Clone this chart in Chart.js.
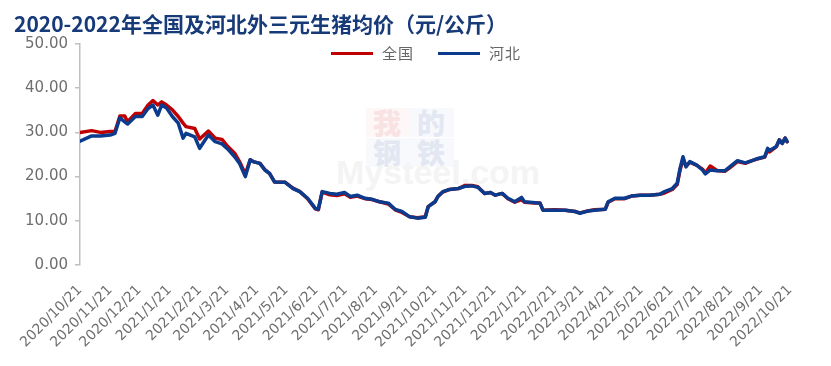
<!DOCTYPE html>
<html lang="zh-CN">
<head>
    <meta charset="UTF-8">
    <title>2020-2022年全国及河北外三元生猪均价</title>
    <script src="https://cdn.jsdelivr.net/npm/chart.js"></script>
    <style>
        html, body { margin: 0; padding: 0; background: #fff; }
        .wrap {
            position: relative;
            width: 831px;
            height: 366px;
            font-family: "Noto Sans CJK SC", "Noto Sans", sans-serif;
        }
        .title {
            position: absolute;
            left: 14px;
            top: 12px;
            font-size: 21px;
            line-height: 23px;
            font-weight: bold;
            color: #173a78;
            white-space: nowrap;
        }
        .legend {
            position: absolute;
            left: 331px;
            top: 44px;
            display: flex;
            align-items: center;
            font-size: 15px;
            line-height: 18px;
            color: #666;
        }
        .legend i {
            display: inline-block;
            width: 42px;
            height: 3px;
            margin-right: 9px;
        }
        .legend span { margin-right: 24px; letter-spacing: 1px; }
        /* faint watermark */
        .wm { position: absolute; font-weight: bold; white-space: nowrap; }
        .wm.cn { left: 366px; font-size: 28px; line-height: 29px; letter-spacing: 2px; }
        .wm.cn b { display: inline-block; width: 44px; text-align: center; }
        .wm.en { left: 336px; top: 154px; font-size: 34px; line-height: 36px; color: #f4f4f4; font-family: "Liberation Sans", sans-serif; }
        canvas { position: absolute; left: 0; top: 0; }
    </style>
</head>
<body>
<div class="wrap">
    <div class="wm cn" style="top:108px"><b style="color:#f8e2e2;background:#fdf7f7">我</b><b style="color:#e2e7f2;background:#f8f9fc">的</b></div>
    <div class="wm cn" style="top:138px"><b style="color:#e2e7f2;background:#f8f9fc">钢</b><b style="color:#e2e7f2;background:#f8f9fc">铁</b></div>
    <div class="wm en">Mysteel.com</div>
    <canvas id="chart" width="831" height="366"></canvas>
    <div class="title">2020-2022年全国及河北外三元生猪均价（元/公斤）</div>
    <div class="legend">
        <i style="background:#c00000"></i><span>全国</span>
        <i style="background:#0b3b8c"></i><span>河北</span>
    </div>
</div>

<script>
    // data
    const dates = [
        '2020-10-21','2020-11-02','2020-11-11','2020-11-21','2020-11-26','2020-12-01','2020-12-06','2020-12-09',
        '2020-12-17','2020-12-24','2020-12-30','2021-01-04','2021-01-09','2021-01-13','2021-01-18','2021-01-24',
        '2021-01-30','2021-02-04','2021-02-07','2021-02-16','2021-02-21','2021-03-02','2021-03-09','2021-03-16',
        '2021-03-22','2021-03-29','2021-04-03','2021-04-09','2021-04-14','2021-04-17','2021-04-24','2021-04-29',
        '2021-05-04','2021-05-09','2021-05-20','2021-05-28','2021-06-04','2021-06-12','2021-06-20','2021-06-23',
        '2021-06-27','2021-07-05','2021-07-12','2021-07-20','2021-07-26','2021-08-02','2021-08-10','2021-08-17',
        '2021-08-25','2021-09-03','2021-09-10','2021-09-17','2021-09-25','2021-10-03','2021-10-11','2021-10-14',
        '2021-10-21','2021-10-24','2021-10-29','2021-11-05','2021-11-14','2021-11-21','2021-11-28','2021-12-04',
        '2021-12-11','2021-12-17','2021-12-22','2021-12-29','2022-01-04','2022-01-11','2022-01-18','2022-01-21',
        '2022-02-01','2022-02-06','2022-02-09','2022-02-21','2022-03-04','2022-03-14','2022-03-19','2022-03-27',
        '2022-04-03','2022-04-14','2022-04-17','2022-04-24','2022-05-04','2022-05-11','2022-05-20','2022-05-30',
        '2022-06-09','2022-06-14','2022-06-22','2022-06-27','2022-06-30','2022-07-03','2022-07-06','2022-07-10',
        '2022-07-17','2022-07-23','2022-07-26','2022-07-31','2022-08-07','2022-08-15','2022-08-20','2022-08-28',
        '2022-09-05','2022-09-12','2022-09-18','2022-09-25','2022-09-28','2022-09-30','2022-10-07','2022-10-10',
        '2022-10-13','2022-10-16','2022-10-18'
    ];
    const quanguo = [
        30.0, 30.4, 30.0, 30.2, 30.2, 33.7, 33.7, 32.4,
        34.3, 34.3, 36.2, 37.2, 36.2, 36.9, 36.2, 35.1,
        33.6, 32.1, 31.3, 30.9, 28.5, 30.3, 28.7, 28.4,
        26.8, 25.3, 23.4, 20.6, 23.8, 23.4, 23.0, 21.6,
        20.7, 18.8, 18.7, 17.4, 16.6, 15.0, 12.7, 12.5,
        16.5, 15.9, 15.7, 16.1, 15.3, 15.6, 15.0, 14.8,
        14.3, 13.8, 12.5, 11.9, 10.9, 10.7, 10.9, 13.2,
        14.3, 15.5, 16.5, 17.1, 17.3, 18.0, 18.0, 17.7,
        16.2, 16.4, 15.8, 16.2, 15.0, 14.2, 14.8, 14.2,
        14.0, 14.0, 12.4, 12.5, 12.4, 12.1, 11.8, 12.2,
        12.5, 12.6, 14.2, 15.0, 15.0, 15.6, 15.8, 15.8,
        16.0, 16.3, 17.1, 18.2, 21.5, 24.0, 22.4, 23.2,
        22.6, 21.7, 20.8, 22.4, 21.4, 21.2, 22.0, 23.4,
        23.0, 23.6, 24.0, 24.4, 26.0, 25.6, 26.8, 28.3,
        27.5, 28.7, 27.9
    ];
    const hebei = [
        28.0, 29.2, 29.2, 29.4, 29.8, 33.3, 32.4, 31.9,
        33.6, 33.6, 35.4, 36.2, 33.9, 36.2, 35.5, 33.6,
        32.1, 28.7, 29.8, 29.0, 26.4, 29.4, 27.9, 27.4,
        26.2, 24.5, 23.0, 20.0, 23.8, 23.4, 23.0, 21.5,
        20.7, 18.8, 18.7, 17.3, 16.6, 15.1, 12.8, 12.6,
        16.6, 16.2, 16.0, 16.4, 15.5, 15.8, 15.1, 14.9,
        14.3, 14.0, 12.6, 12.1, 10.9, 10.6, 10.8, 13.2,
        14.3, 15.5, 16.6, 17.1, 17.3, 17.8, 17.9, 17.6,
        16.2, 16.4, 15.8, 16.2, 15.1, 14.3, 15.3, 14.3,
        14.1, 14.0, 12.4, 12.4, 12.4, 12.1, 11.7, 12.2,
        12.4, 12.6, 14.3, 15.1, 15.1, 15.6, 15.8, 15.8,
        16.0, 16.6, 17.3, 18.5, 21.9, 24.5, 22.2, 23.4,
        22.6, 21.5, 20.6, 21.5, 21.3, 21.3, 22.2, 23.6,
        23.1, 23.6, 24.1, 24.5, 26.4, 25.9, 26.8, 28.3,
        27.5, 28.7, 27.9
    ];
    const monthTicks = [
        '2020/10/21','2020/11/21','2020/12/21','2021/1/21','2021/2/21','2021/3/21','2021/4/21',
        '2021/5/21','2021/6/21','2021/7/21','2021/8/21','2021/9/21','2021/10/21','2021/11/21',
        '2021/12/21','2022/1/21','2022/2/21','2022/3/21','2022/4/21','2022/5/21','2022/6/21',
        '2022/7/21','2022/8/21','2022/9/21','2022/10/21'
    ];
    const yTicks = [0, 10, 20, 30, 40, 50];

    // days since the first tick
    function dayOf(s) {
        const [y, m, d] = s.split(/[-\/]/).map(Number);
        return Math.round((Date.UTC(y, m - 1, d) - Date.UTC(2020, 9, 21)) / 864e5);
    }
    const tickLabel = {};
    monthTicks.forEach(t => { tickLabel[dayOf(t)] = t; });

    const axisFont = '"DejaVu Sans", sans-serif';

    new Chart(document.getElementById('chart'), {
        type: 'line',
        data: {
            datasets: [{
                label: '全国',
                data: dates.map((d, i) => ({ x: dayOf(d), y: quanguo[i] })),
                borderColor: '#c00000',
                borderWidth: 3.5,
                order: 1
            }, {
                label: '河北',
                data: dates.map((d, i) => ({ x: dayOf(d), y: hebei[i] })),
                borderColor: '#0b3b8c',
                borderWidth: 3.5,
                order: 0
            }]
        },
        options: {
            responsive: false,
            animation: false,
            devicePixelRatio: 1,
            layout: { padding: { top: 44, right: 41, bottom: 0, left: 0 } },
            elements: {
                point: { radius: 0 },
                line: { tension: 0, borderJoinStyle: 'round', borderCapStyle: 'round' }
            },
            plugins: {
                legend: { display: false },
                title: { display: false },
                tooltip: { enabled: false }
            },
            scales: {
                x: {
                    type: 'linear',
                    min: 0,
                    max: dayOf(monthTicks[monthTicks.length - 1]),
                    afterBuildTicks: s => { s.ticks = monthTicks.map(t => ({ value: dayOf(t) })); },
                    afterFit: s => { s.height = 101; },
                    grid: { display: false },
                    border: { display: false },
                    ticks: {
                        autoSkip: false,
                        minRotation: 45,
                        maxRotation: 45,
                        padding: 9,
                        color: '#6e6e6e',
                        font: { size: 14, family: axisFont },
                        callback: v => tickLabel[v] || ''
                    }
                },
                y: {
                    min: 0,
                    max: 50,
                    afterBuildTicks: s => { s.ticks = yTicks.map(v => ({ value: v })); },
                    afterFit: s => { s.width = 80; },
                    grid: { drawOnChartArea: false, tickLength: 5, color: '#bfbfbf', lineWidth: 1.5 },
                    border: { color: '#bfbfbf', width: 1.5 },
                    ticks: {
                        padding: 7,
                        color: '#6e6e6e',
                        font: { size: 15, family: axisFont },
                        callback: v => v.toFixed(2)
                    }
                }
            }
        }
    });
</script>
</body>
</html>
